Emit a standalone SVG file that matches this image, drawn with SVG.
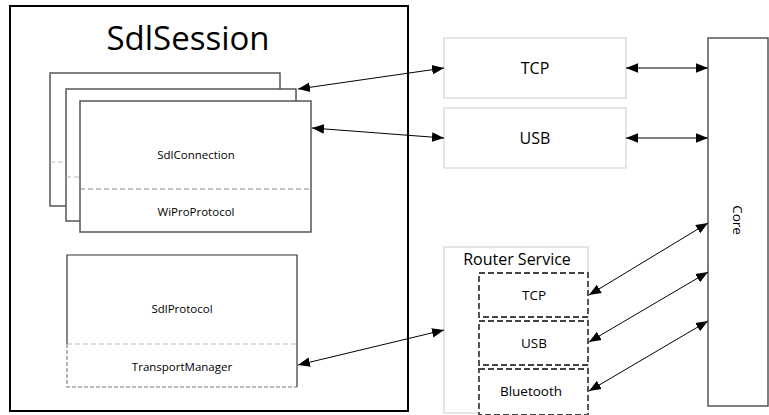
<svg xmlns="http://www.w3.org/2000/svg" width="769" height="415" viewBox="0 0 769 415">
<style>
text{font-family:"Open Sans","Noto Sans","Liberation Sans",sans-serif;fill:#000;text-anchor:middle;dominant-baseline:central}
.small{font-size:11.5px}
.mid{font-size:13.5px}
.big{font-size:16px}
.box{fill:#fff;stroke:#555;stroke-width:1.5}
.light{fill:#fff;stroke:#d4d4d4;stroke-width:1.2}
.div{stroke:#888;stroke-width:1;stroke-dasharray:5,3;fill:none}
.divl{stroke:#bbb;stroke-width:1;stroke-dasharray:5,3;fill:none}
.inner{fill:#fff;stroke:#444;stroke-width:1.8;stroke-dasharray:6,3}
.conn line{stroke:#000;stroke-width:1;marker-start:url(#ah);marker-end:url(#ah)}
.conn line.g{stroke:#555;stroke-width:1.5}
</style>
<defs>
<marker id="ah" viewBox="0 0 10 10" refX="10" refY="5" markerWidth="12" markerHeight="12" markerUnits="userSpaceOnUse" orient="auto-start-reverse">
<path d="M0,1 L10,5 L0,9 z" fill="#000"/>
</marker>
</defs>
<rect width="769" height="415" fill="#fff"/>

<g id="sdlsession">
<rect x="10" y="6" width="398" height="405" fill="#fff" stroke="#000" stroke-width="2"/>
<text x="188" y="37" style="font-size:33px">SdlSession</text>
</g>

<g id="sdlconnection-back">
<rect x="50" y="73" width="230" height="133" class="box" stroke="#666"/>
<line x1="50" y1="162" x2="280" y2="162" class="divl"/>
</g>
<g id="sdlconnection-middle">
<rect x="66" y="89" width="230" height="132" class="box"/>
<line x1="66" y1="177" x2="296" y2="177" class="divl"/>
</g>
<g id="sdlconnection">
<rect x="80" y="101" width="231" height="131" class="box"/>
<line x1="80" y1="189" x2="311" y2="189" class="div"/>
<text x="196" y="154" class="small">SdlConnection</text>
<text x="196" y="211" class="small">WiProProtocol</text>
</g>

<g id="sdlprotocol">
<rect x="67" y="255" width="230" height="132" fill="#fff" stroke="none"/>
<path d="M67,344 V255 H297 V387" fill="none" stroke="#333" stroke-width="1.2"/>
<path d="M67,344 V387 H297" fill="none" stroke="#777" stroke-width="1.1" stroke-dasharray="4,2"/>
<line x1="67" y1="344" x2="297" y2="344" class="divl"/>
<text x="182" y="308" class="small">SdlProtocol</text>
<text x="182" y="366" class="small">TransportManager</text>
</g>

<g id="tcp">
<rect x="444" y="38" width="182" height="60" class="light"/>
<text x="535" y="68" class="big">TCP</text>
</g>
<g id="usb">
<rect x="444" y="108" width="182" height="60" class="light"/>
<text x="535" y="138" class="big">USB</text>
</g>

<g id="core">
<rect x="708" y="38" width="60" height="368" class="box"/>
<text x="738" y="220" class="mid" transform="rotate(90 738 220)">Core</text>
</g>

<g id="router-service">
<rect x="444" y="247" width="144" height="166" class="light" stroke="#ccc"/>
<text x="517" y="259" class="big">Router Service</text>
</g>
<g id="router-tcp">
<rect x="479" y="273" width="109" height="44" class="inner"/>
<text x="534" y="295" class="mid">TCP</text>
</g>
<g id="router-usb">
<rect x="479" y="321" width="109" height="44" class="inner"/>
<text x="534" y="343" class="mid">USB</text>
</g>
<g id="router-bluetooth">
<rect x="479" y="369" width="109" height="46" class="inner"/>
<text x="531" y="391" class="mid">Bluetooth</text>
</g>

<g id="connectors" class="conn">
<line x1="298" y1="89" x2="444" y2="68"/>
<line x1="312" y1="128" x2="444" y2="138"/>
<line x1="626" y1="68" x2="708" y2="68" class="g"/>
<line x1="626" y1="138" x2="708" y2="138" class="g"/>
<line x1="298" y1="365" x2="444" y2="330"/>
<line x1="589" y1="295" x2="708" y2="223"/>
<line x1="589" y1="342" x2="708" y2="272"/>
<line x1="589" y1="391" x2="708" y2="321"/>
</g>
</svg>
